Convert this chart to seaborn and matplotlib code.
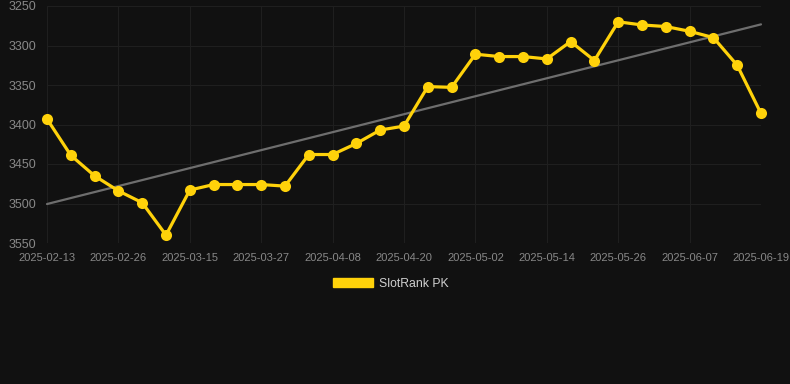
import numpy as np
import pandas as pd
import seaborn as sns
import matplotlib.pyplot as plt
from matplotlib.patches import Patch

# point dates (labels shown every 3rd point) and rank values
dates = ["2025-02-13", "2025-02-17", "2025-02-21", "2025-02-26", "2025-03-03",
         "2025-03-09", "2025-03-15", "2025-03-19", "2025-03-23", "2025-03-27",
         "2025-03-31", "2025-04-04", "2025-04-08", "2025-04-12", "2025-04-16",
         "2025-04-20", "2025-04-24", "2025-04-28", "2025-05-02", "2025-05-06",
         "2025-05-10", "2025-05-14", "2025-05-18", "2025-05-22", "2025-05-26",
         "2025-05-30", "2025-06-03", "2025-06-07", "2025-06-11", "2025-06-15",
         "2025-06-19"]
rank = [3393, 3439, 3465, 3484, 3499, 3540, 3483, 3476, 3476, 3476,
        3478, 3438, 3438, 3424, 3407, 3402, 3352, 3353, 3311, 3314,
        3314, 3317, 3295, 3319, 3270, 3274, 3276, 3282, 3290, 3325,
        3386]
series_name = "SlotRank PK"
y_ticks = [3250, 3300, 3350, 3400, 3450, 3500, 3550]

df = pd.DataFrame({"idx": np.arange(len(dates)), "date": dates, "rank": rank})

# linear trend over the series
coef = np.polyfit(df["idx"], df["rank"], 1)
df["trend"] = np.polyval(coef, df["idx"])

bg = "#111111"
grid_col = "#1f1f1f"
text_col = "#888888"
gold = "#FFD20A"

sns.set_style("dark")
plt.rcParams["font.family"] = ["Liberation Sans", "DejaVu Sans"]

fig = plt.figure(figsize=(7.9, 3.84), dpi=100, facecolor=bg)
ax = fig.add_axes([47/790, 1 - 243/384, (761 - 47)/790, (243 - 6)/384])
ax.set_facecolor(bg)

sns.lineplot(data=df, x="idx", y="trend", ax=ax, color="#6e6e6e", linewidth=1.6)
sns.lineplot(data=df, x="idx", y="rank", ax=ax, color=gold, linewidth=2.3,
             marker="o", markersize=8, markeredgewidth=0, markeredgecolor=gold)
for ln in ax.lines:
    ln.set_clip_on(False)

ax.set_xlim(0, len(dates) - 1)
ax.set_ylim(3550, 3250)
ax.set_yticks(y_ticks)
tick_pos = list(range(0, len(dates), 3))
ax.set_xticks(tick_pos)
ax.set_xticklabels([dates[i] for i in tick_pos])
ax.set_xlabel("")
ax.set_ylabel("")

ax.grid(True, color=grid_col, linewidth=0.8)
ax.set_axisbelow(True)
for s in ax.spines.values():
    s.set_visible(False)
ax.tick_params(axis="both", length=5, color=grid_col, labelcolor=text_col,
               labelsize=8, pad=2.5)
ax.tick_params(axis="y", labelsize=9)

handle = Patch(facecolor=gold, edgecolor=gold)
leg = fig.legend([handle], [series_name], loc="center",
                 bbox_to_anchor=(391/790, 1 - 284/384), frameon=False,
                 handlelength=3.3, handleheight=0.8, handletextpad=0.5,
                 fontsize=8.8, labelcolor="#d0d0d0")

fig.savefig("out.png", dpi=100, facecolor=bg)
